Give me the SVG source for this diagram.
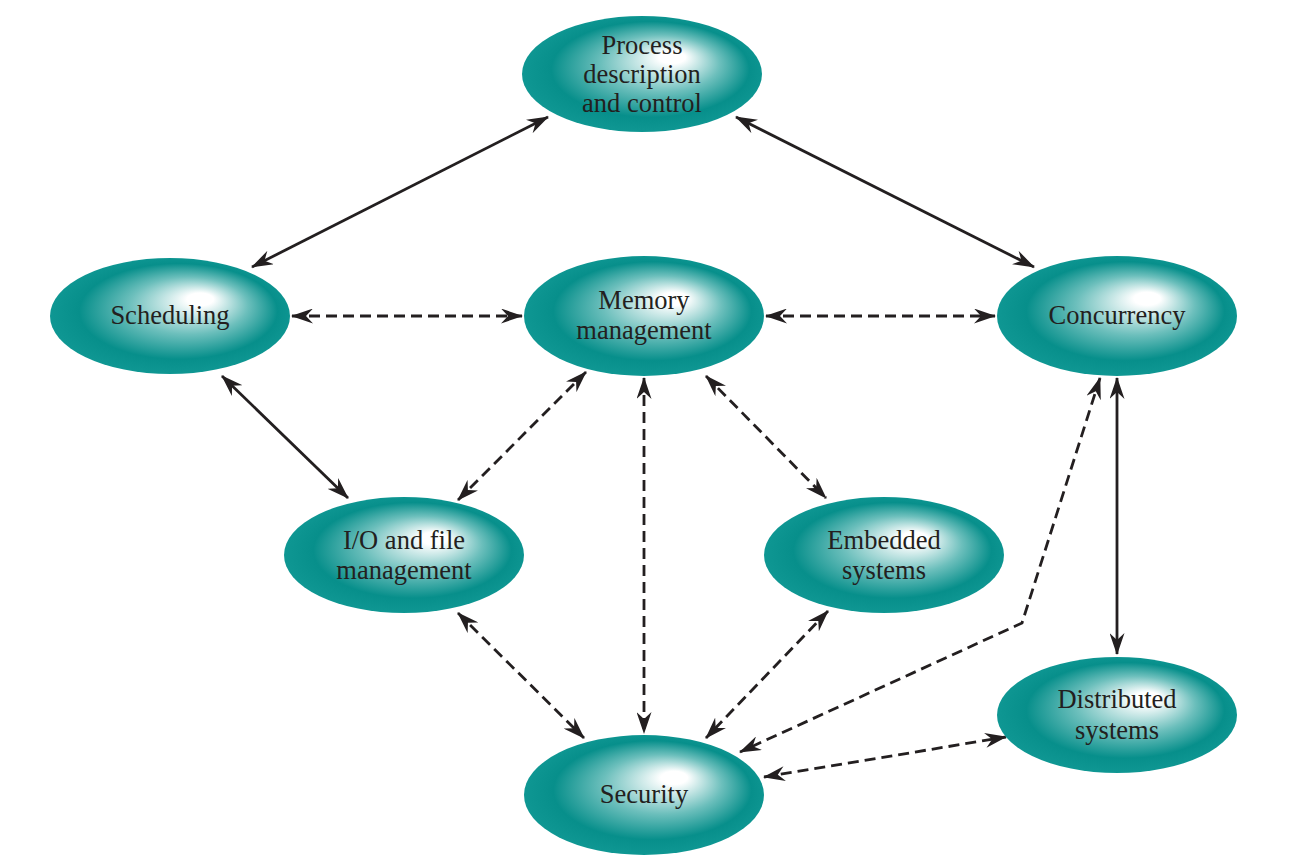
<svg xmlns="http://www.w3.org/2000/svg" width="1309" height="862" viewBox="0 0 1309 862">
<style>
.node{fill:url(#g);}
.t{font-family:"Liberation Serif","Times New Roman",serif;font-size:26.5px;fill:#231f20;text-anchor:middle;}
.c{fill:none;stroke:#231f20;stroke-width:2.8;marker-start:url(#a);marker-end:url(#a);}
.d{stroke-dasharray:11,6;}
</style>
<defs>
<radialGradient id="g" cx="0.5" cy="0.5" r="0.55" fx="0.64" fy="0.34">
<stop offset="0" stop-color="#ffffff"/>
<stop offset="0.1" stop-color="#ffffff"/>
<stop offset="0.45" stop-color="#6cbfbc"/>
<stop offset="0.75" stop-color="#078f8b"/>
<stop offset="1" stop-color="#129a96"/>
</radialGradient>
<marker id="a" viewBox="0 0 22 15" refX="21" refY="7.5" markerWidth="22" markerHeight="15" markerUnits="userSpaceOnUse" orient="auto-start-reverse">
<path d="M0,0 L22,7.5 L0,15 L7,7.5 z" fill="#231f20"/>
</marker>
</defs>
<g id="connectors">
<line class="c" x1="252" y1="267" x2="548" y2="117"/>
<line class="c" x1="736" y1="117" x2="1034" y2="267"/>
<line class="c d" x1="292" y1="316" x2="522" y2="316"/>
<line class="c d" x1="766" y1="316" x2="995" y2="316"/>
<line class="c" x1="222" y1="376" x2="348" y2="498"/>
<line class="c d" x1="586" y1="372" x2="458" y2="500"/>
<line class="c d" x1="644" y1="378" x2="644" y2="733"/>
<line class="c d" x1="706" y1="376" x2="826" y2="498"/>
<line class="c" x1="1117" y1="378" x2="1117" y2="654"/>
<polyline class="c d" points="1100,378 1022,623 740,752"/>
<line class="c d" x1="458" y1="613" x2="584" y2="738"/>
<line class="c d" x1="828" y1="611" x2="706" y2="738"/>
<line class="c d" x1="764" y1="777" x2="1006" y2="737"/>
</g>
<g id="process"><ellipse class="node" cx="642" cy="74" rx="120" ry="58"/>
<text class="t" x="642" y="54">Process</text><text class="t" x="642" y="83">description</text><text class="t" x="642" y="112">and control</text></g>
<g id="scheduling"><ellipse class="node" cx="170" cy="316" rx="120" ry="58"/>
<text class="t" x="170" y="324">Scheduling</text></g>
<g id="memory"><ellipse class="node" cx="644" cy="316" rx="120" ry="60"/>
<text class="t" x="644" y="309">Memory</text><text class="t" x="644" y="339">management</text></g>
<g id="concurrency"><ellipse class="node" cx="1117" cy="316" rx="120" ry="60"/>
<text class="t" x="1117" y="324">Concurrency</text></g>
<g id="io"><ellipse class="node" cx="404" cy="555" rx="120" ry="58"/>
<text class="t" x="404" y="549">I/O and file</text><text class="t" x="404" y="579">management</text></g>
<g id="embedded"><ellipse class="node" cx="884" cy="555" rx="120" ry="58"/>
<text class="t" x="884" y="549">Embedded</text><text class="t" x="884" y="579">systems</text></g>
<g id="distributed"><ellipse class="node" cx="1117" cy="715" rx="120" ry="58"/>
<text class="t" x="1117" y="708">Distributed</text><text class="t" x="1117" y="739">systems</text></g>
<g id="security"><ellipse class="node" cx="644" cy="795" rx="120" ry="60"/>
<text class="t" x="644" y="803">Security</text></g>
</svg>
